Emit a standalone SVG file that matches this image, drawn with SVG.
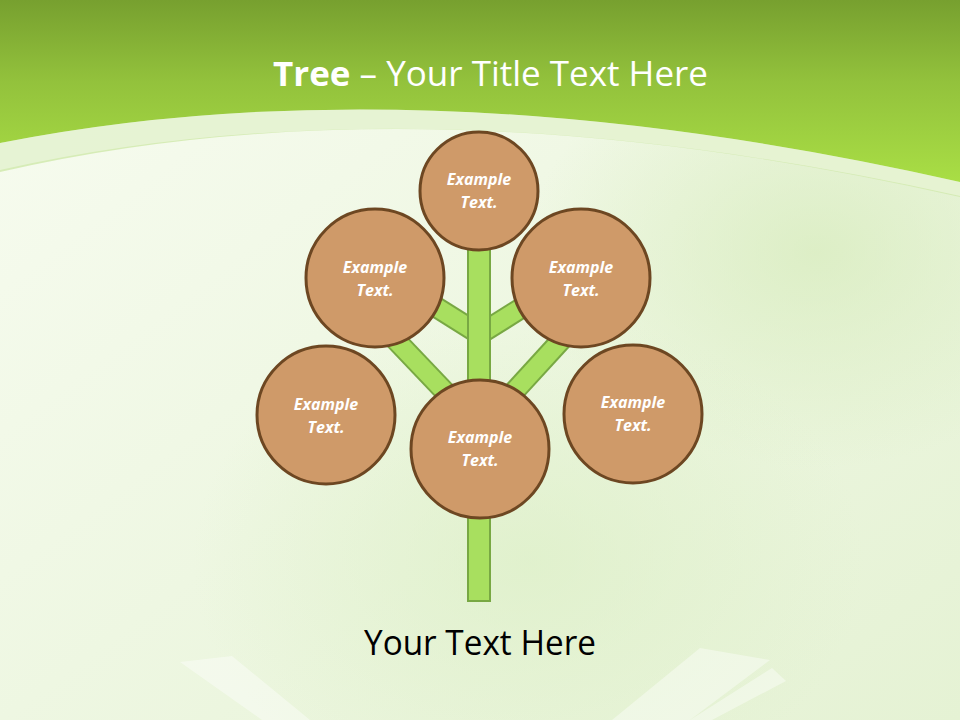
<svg xmlns="http://www.w3.org/2000/svg" width="960" height="720" viewBox="0 0 960 720">
  <defs>
    <linearGradient id="bg" x1="0" y1="0" x2="1" y2="1">
      <stop offset="0" stop-color="#f8fcf1"/>
      <stop offset="0.5" stop-color="#eef7e2"/>
      <stop offset="1" stop-color="#e5f2d4"/>
    </linearGradient>
    <radialGradient id="glow" cx="0.85" cy="0.35" r="0.3">
      <stop offset="0" stop-color="#d6ebbb" stop-opacity="0.7"/>
      <stop offset="1" stop-color="#d6ebbb" stop-opacity="0"/>
    </radialGradient>
    <radialGradient id="glow2" cx="0.55" cy="0.78" r="0.35">
      <stop offset="0" stop-color="#dcefc6" stop-opacity="0.7"/>
      <stop offset="1" stop-color="#dcefc6" stop-opacity="0"/>
    </radialGradient>
    <linearGradient id="hdr" x1="0" y1="0" x2="0" y2="1">
      <stop offset="0" stop-color="#77a02f"/>
      <stop offset="0.45" stop-color="#93c23c"/>
      <stop offset="1" stop-color="#a9de45"/>
    </linearGradient>
    <style>
      .node circle { fill: #cf9a69; stroke: #6d4722; stroke-width: 3; }
      .node text { font-family: "Open Sans", "Noto Sans", sans-serif; font-weight: bold; font-style: italic; font-size: 16px; fill: #ffffff; text-anchor: middle; }
      .br-out { stroke: #78a843; stroke-width: 22; fill: none; stroke-linecap: butt; }
      .br-in { stroke: #a8df5f; stroke-width: 18; fill: none; stroke-linecap: butt; }
      .page { fill: #ffffff; opacity: 0.4; }
    </style>
  </defs>

  <!-- background -->
  <rect x="0" y="0" width="960" height="720" fill="url(#bg)"/>
  <rect x="0" y="0" width="960" height="720" fill="url(#glow)"/>
  <rect x="0" y="0" width="960" height="720" fill="url(#glow2)"/>

  <!-- book pages -->
  <polygon class="page" points="180,662 232,656 310,720 262,720"/>
  <polygon class="page" points="700,648 770,660 690,720 612,720"/>
  <polygon class="page" points="772,668 786,681 712,720 690,720"/>

  <!-- header -->
  <path d="M0,0 H960 V200 L960,197 Q420,75 0,172 Z" fill="#d3eab0" opacity="0.9"/>
  <path d="M0,0 H960 V182 Q420,60 0,143 Z" fill="url(#hdr)"/>
  <path d="M0,143 Q420,60 960,182 L960,196 Q420,76 0,170 Z" fill="#ffffff" opacity="0.4"/>

  <text x="273" y="86" font-family="Open Sans, Noto Sans, sans-serif" font-size="34" fill="#ffffff" textLength="435" lengthAdjust="spacingAndGlyphs"><tspan font-weight="bold">Tree</tspan> – Your Title Text Here</text>

  <!-- connectors -->
  <g id="connectors">
    <line class="br-out" x1="436" y1="307" x2="479" y2="334"/>
    <line class="br-in" x1="436" y1="307" x2="479" y2="334"/>
    <line class="br-out" x1="523" y1="307" x2="480" y2="334"/>
    <line class="br-in" x1="523" y1="307" x2="480" y2="334"/>
    <line class="br-out" x1="390" y1="334" x2="470" y2="418"/>
    <line class="br-in" x1="390" y1="334" x2="470" y2="418"/>
    <line class="br-out" x1="565" y1="336" x2="490" y2="418"/>
    <line class="br-in" x1="565" y1="336" x2="490" y2="418"/>
    <rect x="468" y="240" width="22" height="361" fill="#a8df5f" stroke="#78a843" stroke-width="2"/>
  </g>

  <g id="node-top" class="node">
    <circle cx="479" cy="191" r="59"/>
    <text x="479" y="185">Example</text>
    <text x="479" y="208">Text.</text>
  </g>
  <g id="node-upper-left" class="node">
    <circle cx="375" cy="278" r="69"/>
    <text x="375" y="273">Example</text>
    <text x="375" y="296">Text.</text>
  </g>
  <g id="node-upper-right" class="node">
    <circle cx="581" cy="278" r="69"/>
    <text x="581" y="273">Example</text>
    <text x="581" y="296">Text.</text>
  </g>
  <g id="node-lower-left" class="node">
    <circle cx="326" cy="415" r="69"/>
    <text x="326" y="410">Example</text>
    <text x="326" y="433">Text.</text>
  </g>
  <g id="node-center" class="node">
    <circle cx="480" cy="449" r="69"/>
    <text x="480" y="443">Example</text>
    <text x="480" y="466">Text.</text>
  </g>
  <g id="node-right" class="node">
    <circle cx="633" cy="414" r="69"/>
    <text x="633" y="408">Example</text>
    <text x="633" y="431">Text.</text>
  </g>

  <text x="364" y="655" font-family="Open Sans, Noto Sans, sans-serif" font-size="34" fill="#000000" textLength="232" lengthAdjust="spacingAndGlyphs">Your Text Here</text>
</svg>
